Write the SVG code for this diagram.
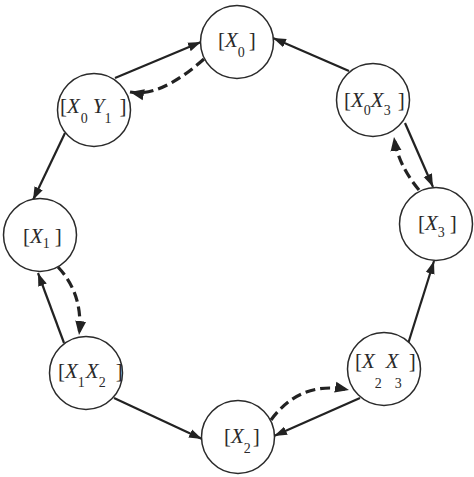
<svg xmlns="http://www.w3.org/2000/svg" width="474" height="477" viewBox="0 0 474 477">
<style>
.node circle{fill:#fff;stroke:#2a2a2a;stroke-width:1.5}
text{font-family:"Liberation Serif","Times New Roman",serif;font-size:21px;fill:#2a2a2a}
.i{font-style:italic}
.s{font-size:14px}
.solid{fill:none;stroke:#222;stroke-width:2.2;marker-end:url(#ah)}
.dash{fill:none;stroke:#222;stroke-width:3.2;stroke-dasharray:10 5;marker-end:url(#ahd)}
</style>
<defs>
<marker id="ah" markerUnits="userSpaceOnUse" markerWidth="14" markerHeight="10" refX="13" refY="5" orient="auto">
<path d="M0,0.5 L13,5 L0,9.5 Z" fill="#222"/>
</marker>
<marker id="ahd" markerUnits="userSpaceOnUse" markerWidth="15" markerHeight="12" refX="14" refY="6" orient="auto">
<path d="M0,0.5 L14,6 L0,11.5 Z" fill="#222"/>
</marker>
</defs>
<g id="connectors">
<line class="solid" x1="115" y1="78" x2="201" y2="42"/>
<path class="dash" d="M204,59 Q160,98 130,92"/>
<line class="solid" x1="65" y1="133" x2="33" y2="200"/>
<line class="solid" x1="349" y1="71" x2="273" y2="38"/>
<line class="solid" x1="405" y1="123" x2="433" y2="187"/>
<path class="dash" d="M419,190 Q398,165 394,137"/>
<line class="solid" x1="64" y1="343" x2="38" y2="273"/>
<path class="dash" d="M58,267 Q84,295 79,335"/>
<line class="solid" x1="114" y1="398" x2="202" y2="439"/>
<line class="solid" x1="360" y1="398" x2="274" y2="436"/>
<path class="dash" d="M271,420 Q300,380 349,390"/>
<line class="solid" x1="408" y1="344" x2="434" y2="261"/>
</g>
<g id="n-X0" class="node">
<circle cx="237" cy="42" r="36.5"/>
<text x="218" y="47">[<tspan class="i">X</tspan><tspan class="s" dy="10">0</tspan><tspan dx="4" dy="-10">]</tspan></text>
</g>
<g id="n-X0Y1" class="node">
<circle cx="94" cy="110" r="36.5"/>
<text x="60" y="113">[<tspan class="i">X</tspan><tspan class="s" dx="1" dy="10">0</tspan><tspan class="i" dx="5" dy="-10">Y</tspan><tspan class="s" dy="10">1</tspan><tspan dx="8" dy="-10">]</tspan></text>
</g>
<g id="n-X1" class="node">
<circle cx="40" cy="235" r="36.5"/>
<text x="23" y="243">[<tspan class="i">X</tspan><tspan class="s" dy="5">1</tspan><tspan dx="5" dy="-5">]</tspan></text>
</g>
<g id="n-X1X2" class="node">
<circle cx="86" cy="373" r="36.5"/>
<text x="58" y="378">[<tspan class="i">X</tspan><tspan class="s" dy="9">1</tspan><tspan class="i" dx="1" dy="-9">X</tspan><tspan class="s" dy="9">2</tspan><tspan dx="10" dy="-9">]</tspan></text>
</g>
<g id="n-X2" class="node">
<circle cx="238" cy="437" r="36.5"/>
<text x="224" y="443">[<tspan class="i">X</tspan><tspan class="s" dy="10">2</tspan><tspan dx="2" dy="-10">]</tspan></text>
</g>
<g id="n-X2X3" class="node">
<circle cx="384" cy="369" r="36.5"/>
<text x="355" y="368">[<tspan class="i">X</tspan><tspan class="s" dy="20">2</tspan><tspan class="i" dx="4" dy="-20">X</tspan><tspan class="s" dx="-4" dy="20">3</tspan><tspan dx="7" dy="-20">]</tspan></text>
</g>
<g id="n-X3" class="node">
<circle cx="436" cy="224" r="36.5"/>
<text x="418" y="230">[<tspan class="i">X</tspan><tspan class="s" dy="7">3</tspan><tspan dx="5" dy="-7">]</tspan></text>
</g>
<g id="n-X0X3" class="node">
<circle cx="373" cy="100" r="36.5"/>
<text x="344" y="107">[<tspan class="i">X</tspan><tspan class="s" dy="8">0</tspan><tspan class="i" dy="-8">X</tspan><tspan class="s" dy="8">3</tspan><tspan dx="7" dy="-8">]</tspan></text>
</g>
</svg>
